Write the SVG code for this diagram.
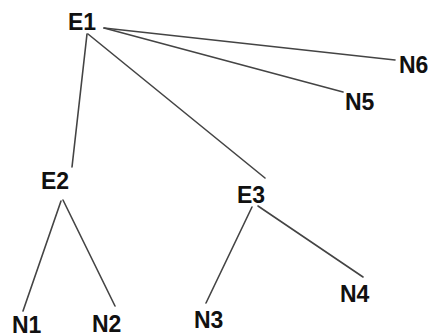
<svg xmlns="http://www.w3.org/2000/svg" width="428" height="335" viewBox="0 0 428 335">
<style>
.lbl{font-family:"Liberation Sans",Arial,sans-serif;font-weight:bold;font-size:23px;fill:#111}
.edge{stroke:#444;stroke-width:1.6;fill:none;stroke-linecap:round}
</style>
<rect width="428" height="335" fill="#fff"/>
<g id="connectors">
<line class="edge" x1="104" y1="28" x2="395" y2="60"/>
<line class="edge" x1="104" y1="28" x2="343" y2="92"/>
<line class="edge" x1="87" y1="34" x2="72" y2="167"/>
<line class="edge" x1="88" y1="34" x2="265" y2="178"/>
<line class="edge" x1="61" y1="201" x2="23" y2="311"/>
<line class="edge" x1="63" y1="200" x2="115" y2="306"/>
<line class="edge" x1="252" y1="207" x2="206" y2="303"/>
<line class="edge" x1="258" y1="206" x2="363" y2="277"/>
</g>
<g id="E1"><text class="lbl" x="68" y="30">E1</text></g>
<g id="E2"><text class="lbl" x="41" y="189">E2</text></g>
<g id="E3"><text class="lbl" x="237" y="203">E3</text></g>
<g id="N1"><text class="lbl" x="12" y="333">N1</text></g>
<g id="N2"><text class="lbl" x="92" y="332">N2</text></g>
<g id="N3"><text class="lbl" x="194" y="328">N3</text></g>
<g id="N4"><text class="lbl" x="340" y="302">N4</text></g>
<g id="N5"><text class="lbl" x="345" y="110">N5</text></g>
<g id="N6"><text class="lbl" x="399" y="73">N6</text></g>
</svg>
